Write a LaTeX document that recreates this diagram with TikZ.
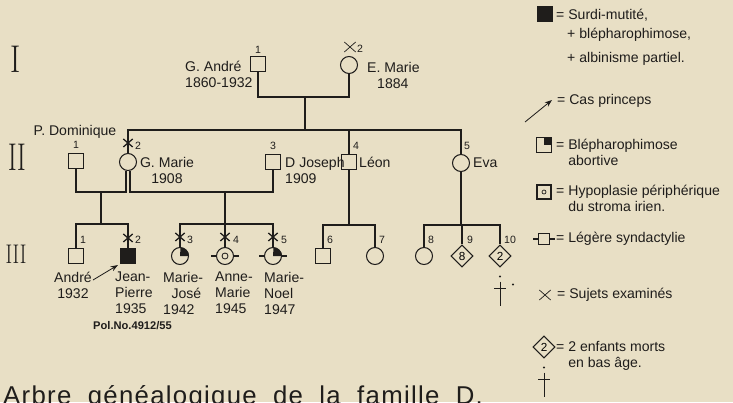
\documentclass[tikz,border=0pt]{standalone}
\usepackage{fontspec}
\newfontfamily\pedfont{Liberation Sans}
\newfontfamily\capfont[LetterSpace=5]{Liberation Sans}
\usepackage{graphicx}
\usepackage{tikz}
\usetikzlibrary{arrows.meta,positioning,shapes.geometric,calc}
\definecolor{cPaper}{HTML}{E8DFC5}
\definecolor{cInk}{HTML}{1F1D1B}
\tikzset{
  ind/.style    = {draw=cInk, line width=0.9pt, inner sep=0pt},
  male/.style   = {ind, rectangle, minimum size=4.5mm},
  female/.style = {ind, circle, minimum size=5.1mm},
  unk/.style    = {ind, diamond, minimum size=6.6mm,
                   font=\pedfont\fontsize{10}{10}\selectfont},
  affected/.style = {fill=cInk},
  kin/.style    = {draw=cInk, line width=0.9pt},
  pname/.style  = {font=\pedfont\fontsize{12}{13.5}\selectfont, text=cInk,
                   inner sep=0pt, align=left},
  num/.style    = {font=\pedfont\fontsize{9}{10}\selectfont, text=cInk, inner sep=0pt},
  gen/.style    = {text=cInk, inner sep=0pt},
  princeps/.style = {kin, line width=0.7pt, -{Stealth[length=2.2mm,width=1.6mm]}},
  headline/.style = {font=\capfont\fontsize{22}{26}\selectfont,
                     text=cInk, inner sep=0pt},
  exam/.pic     = {\draw[cInk, line width=1.1pt] (-1.4mm,-1.2mm) -- (1.4mm,1.2mm)
                   (-1.4mm,1.2mm) -- (1.4mm,-1.2mm);},
  examthin/.pic = {\draw[cInk, line width=0.6pt] (-1.7mm,-1.5mm) -- (1.7mm,1.5mm)
                   (-1.7mm,1.5mm) -- (1.7mm,-1.5mm);},
}
% upper right quarter filled (blepharophimose abortive)
\newcommand\abortcirc[1]{\fill[cInk] (#1.center) -- (#1.east)
  arc[start angle=0, end angle=90, radius=2.55mm] -- cycle;}
% short side strokes (syndactylie)
\newcommand\syndac[1]{\draw[kin] (#1.west) -- ++(-1.6mm,0) (#1.east) -- ++(1.6mm,0);}
% dot and cross under a symbol (morts en bas age)
\newcommand\deadmark[1]{\fill[cInk] ($(#1.south)+(0,9)$) circle[radius=0.35mm];
  \draw[kin, line width=0.7pt] ($(#1.south)+(0,14)$) -- ++(0,24)
    ($(#1.south)+(-6,21)$) -- ++(12,0);}

\begin{document}
\begin{tikzpicture}[x=0.3mm, y=-0.3mm]
  \fill[cPaper] (0,0) rectangle (733,402);
  \useasboundingbox (0,0) rectangle (733,402);

  % generations
  \node[gen, font=\fontsize{33}{33}\selectfont] (genI) at (16,59) {\scalebox{0.8}[1]{I}};
  \node[gen, font=\fontsize{33}{33}\selectfont] (genII) at (17,157) {\scalebox{0.68}[1]{II}};
  \node[gen, font=\fontsize{23}{23}\selectfont] (genIII) at (16,254) {\scalebox{0.75}[1]{III}};

  % I
  \node[male] (andreI) at (258,64) {};
  \node[female] (emarie) at (349,65) {};
  \node[num] (nI1) at (258,50) {1};
  \pic at (350,47) {examthin};
  \node[num, anchor=west] (nI2) at (357,49) {2};
  \node[pname, anchor=north west] (andreIL) at (185,61) {G. André\\1860-1932};
  \node[pname, anchor=north west] (emarieL) at (367,62) {E. Marie\\\hspace*{3mm}1884};

  % II
  \node[male] (dominique) at (76,161) {};
  \node[female] (gmarie) at (128,162) {};
  \node[male] (joseph) at (273,162) {};
  \node[male] (leon) at (349,162) {};
  \node[female] (eva) at (461,163) {};
  \node[pname] (dominiqueL) at (75,132) {P. Dominique};
  \node[num] (nII1) at (76,145) {1};
  \node[num, anchor=west] (nII2) at (135,146) {2};
  \node[num] (nII3) at (273,146) {3};
  \node[num, anchor=west] (nII4) at (353,146) {4};
  \node[num, anchor=west] (nII5) at (464,146) {5};
  \node[pname, anchor=north, align=center] (gmarieL) at (167,157) {G. Marie\\1908};
  \node[pname, anchor=north west] (josephL) at (285,157) {D Joseph\\1909};
  \node[pname, anchor=west] (leonL) at (359,162) {Léon};
  \node[pname, anchor=west] (evaL) at (473,163) {Eva};
  \pic at ($(gmarie.north)+(0,-10)$) {exam};

  \coordinate (mI) at (305,97);
  \coordinate (sI) at (305,130);
  \draw[kin] (andreI.south) |- (mI) -| (emarie.south);
  \draw[kin] (mI) -- (sI);
  \draw[kin] (gmarie.north) |- (sI) -| (eva.north);
  \draw[kin] (leon.north) -- (leon.north |- sI);

  % III
  \node[male] (andreIII) at (76,256) {};
  \node[male, affected] (jeanpierre) at (128,256) {};
  \node[female] (mariejose) at (180,256) {};
  \node[female] (annemarie) at (225,256) {};
  \node[female] (marienoel) at (273,256) {};
  \node[male] (six) at (323,256) {};
  \node[female] (seven) at (375,256) {};
  \node[female] (eight) at (424,256) {};
  \node[unk] (nine) at (462,256) {8};
  \node[unk] (ten) at (500,256) {2};
  \abortcirc{mariejose}
  \abortcirc{marienoel}
  \draw[kin, line width=0.7pt] (annemarie.center) circle[radius=0.9mm];
  \syndac{annemarie}
  \syndac{marienoel}
  \deadmark{ten}
  \fill[cInk] ($(ten.south)+(13,17)$) circle[radius=0.35mm];

  \foreach \who in {jeanpierre,mariejose,annemarie,marienoel}
    \pic at ($(\who.north)+(0,-10)$) {exam};
  \node[num, anchor=west] (nIII1) at (80,240) {1};
  \node[num, anchor=west] (nIII2) at (135,240) {2};
  \node[num, anchor=west] (nIII3) at (187,240) {3};
  \node[num, anchor=west] (nIII4) at (233,240) {4};
  \node[num, anchor=west] (nIII5) at (281,240) {5};
  \node[num, anchor=west] (nIII6) at (327,240) {6};
  \node[num, anchor=west] (nIII7) at (379,240) {7};
  \node[num, anchor=west] (nIII8) at (428,240) {8};
  \node[num, anchor=west] (nIII9) at (467,240) {9};
  \node[num, anchor=west] (nIII10) at (504,240) {10};

  \node[pname, anchor=north, align=center] (andreL) at (73,272) {André\\1932};
  \node[pname, anchor=north west] (jeanpierreL) at (115,272) {Jean-\\Pierre\\1935};
  \node[pname, anchor=north west] (mariejoseL) at (163,272) {Marie-\\\hspace*{2.5mm}José\\1942};
  \node[pname, anchor=north west] (annemarieL) at (215,272) {Anne-\\Marie\\1945};
  \node[pname, anchor=north west] (marienoelL) at (264,272) {Marie-\\Noel\\1947};
  \node[num, anchor=west, font=\pedfont\bfseries\fontsize{9.5}{10}\selectfont]
    (polL) at (93,326) {Pol.No.4912/55};
  \coordinate (cpFrom) at (93,280);
  \draw[princeps] (cpFrom) -- ($(jeanpierre.south west)+(-2,1)$);

  \coordinate (gmL) at ([xshift=-0.6mm]gmarie.south);
  \coordinate (gmR) at ([xshift=0.6mm]gmarie.south);
  \coordinate (mII1) at (101,192);
  \coordinate (mII2) at (225,192);
  \coordinate (sII1) at (101,224);
  \coordinate (sII2) at (225,224);
  \coordinate (sII3) at (349,225);
  \coordinate (sII4) at (461,225);
  \draw[kin] (dominique.south) |- (gmL |- mII1) -- (gmL);
  \draw[kin] (gmR) -- (gmR |- mII2) -| (joseph.south);
  \draw[kin] (mII1) -- (sII1);
  \draw[kin] (andreIII.north) |- (sII1) -| (jeanpierre.north);
  \draw[kin] (mII2) -- (sII2);
  \draw[kin] (mariejose.north) |- (sII2) -| (marienoel.north);
  \draw[kin] (annemarie.north) -- (sII2);
  \draw[kin] (leon.south) -- (sII3);
  \draw[kin] (six.north) |- (sII3) -| (seven.north);
  \draw[kin] (eva.south) -- (sII4);
  \draw[kin] (eight.north) |- (sII4) -| (ten.north);
  \draw[kin] (nine.north) -- (nine.north |- sII4);

  % legend
  \node[male, affected] (legSurdi) at (545,14) {};
  \node[pname, anchor=west] (legSurdiT) at (556,15) {= Surdi-mutité,};
  \node[pname, anchor=west] (legBleT) at (567,35) {+ blépharophimose,};
  \node[pname, anchor=west] (legAlbT) at (567,59) {+ albinisme partiel.};
  \coordinate (legArrA) at (525,122);
  \coordinate (legArrB) at (552,100);
  \draw[princeps] (legArrA) -- (legArrB);
  \node[pname, anchor=west] (legCasT) at (557,101) {= Cas princeps};
  \node[male] (legAbort) at (544,145) {};
  \fill[cInk] (legAbort.center) rectangle (legAbort.north east);
  \node[pname, anchor=north west] (legAbortT) at (556,139) {= Blépharophimose\\\phantom{= }abortive};
  \node[male, minimum size=4.2mm] (legHypo) at (544,192) {};
  \draw[kin, line width=0.6pt] (legHypo.center) circle[radius=0.6mm];
  \node[pname, anchor=north west] (legHypoT) at (556,185) {= Hypoplasie périphérique\\\phantom{= }du stroma irien.};
  \node[male, minimum size=3.3mm] (legSynd) at (544,239) {};
  \syndac{legSynd}
  \node[pname, anchor=west] (legSyndT) at (556,239) {= Légère syndactylie};
  \pic at (545,295) {examthin};
  \node[pname, anchor=west] (legExamT) at (557,295) {= Sujets examinés};
  \node[unk] (legDiam) at (544,347) {2};
  \deadmark{legDiam}
  \node[pname, anchor=north west] (legDiamT) at (556,341) {= 2 enfants morts\\\phantom{= }en bas âge.};

  % caption, cut by the page edge as in the print
  \node[headline, anchor=base west] (caption) at (3,404)
    {\spaceskip=14pt\relax Arbre généalogique de la famille D.};
\end{tikzpicture}
\end{document}
